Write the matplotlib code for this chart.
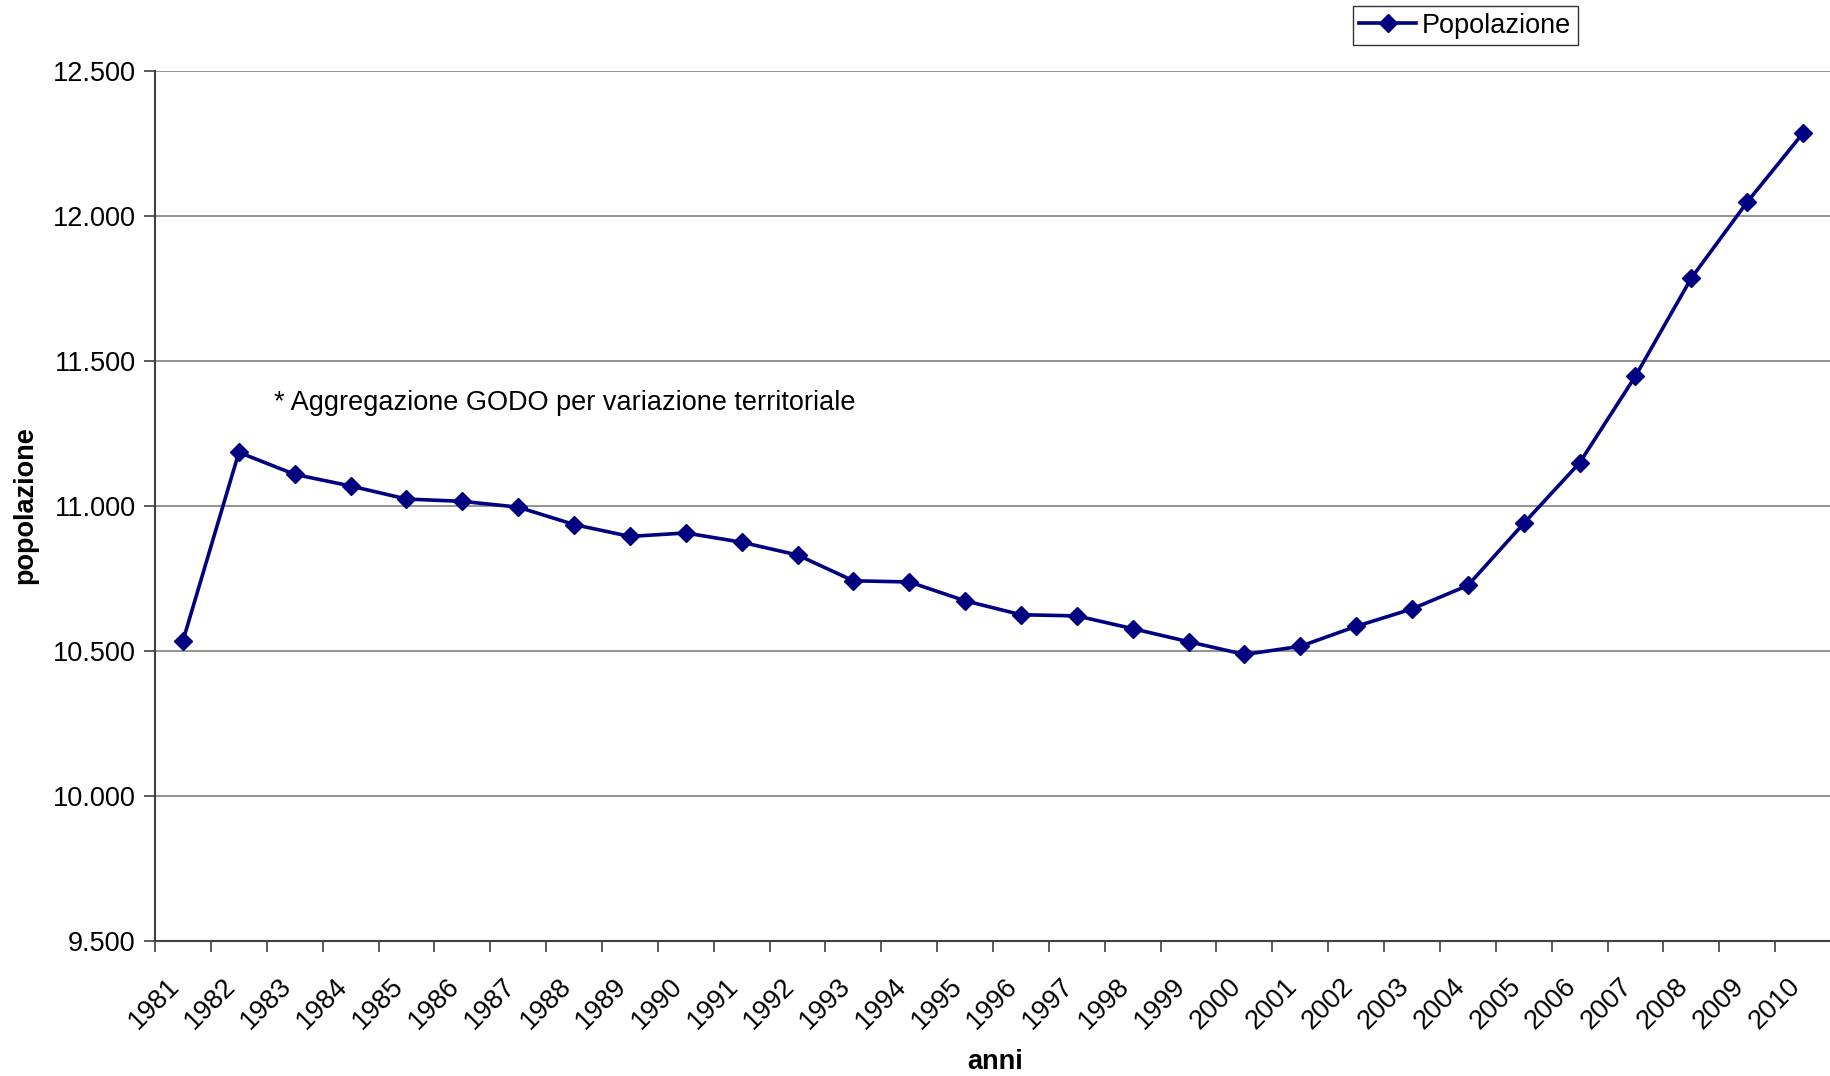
import matplotlib.pyplot as plt
from matplotlib.ticker import FuncFormatter, MultipleLocator
from matplotlib.transforms import ScaledTranslation

plt.rcParams['font.family'] = ['Liberation Sans', 'DejaVu Sans']

# dati
anni = [str(a) for a in range(1981, 2011)]
popolazione = [10536, 11185, 11109, 11069, 11024, 11016, 10996, 10936, 10895, 10907,
               10875, 10831, 10742, 10738, 10673, 10625, 10621, 10577, 10532, 10488,
               10516, 10585, 10645, 10726, 10940, 11149, 11448, 11786, 12048, 12286]
nota = "* Aggregazione GODO per variazione territoriale"

fig = plt.figure(figsize=(18.31, 10.76), dpi=100)
ax = fig.add_axes([0.0847, 0.1255, 0.9153, 0.8085])

x = list(range(len(anni)))
ax.plot(x, popolazione, color='#000080', linewidth=2.6, marker='D', markersize=9.5,
        label='Popolazione', zorder=3)

ax.set_xlim(-0.5, len(anni) - 0.5)
ax.set_ylim(9500, 12500)
ax.yaxis.set_major_locator(MultipleLocator(500))
ax.yaxis.set_major_formatter(FuncFormatter(lambda v, p: '{:,.0f}'.format(v).replace(',', '.')))
ax.grid(axis='y', color='#808080', linewidth=1.2)
ax.set_axisbelow(True)

# tacche tra le categorie, etichette al centro
ax.set_xticks(x)
ax.set_xticklabels(anni, rotation=45, ha='right', va='center', rotation_mode='anchor')
ax.set_xticks([i - 0.5 for i in range(len(anni) + 1)], minor=True)
ax.tick_params(axis='x', which='major', length=0, pad=30, labelsize=19.5)
ax.tick_params(axis='x', which='minor', length=8, width=1.2, color='#404040')
ax.tick_params(axis='y', length=8, width=1.2, color='#404040', labelsize=19.5, pad=6)
for lab in ax.get_xticklabels():
    lab.set_transform(lab.get_transform() + ScaledTranslation(-0.07, 0, fig.dpi_scale_trans))

for s in ['top', 'right']:
    ax.spines[s].set_visible(False)
for s in ['left', 'bottom']:
    ax.spines[s].set_color('#404040')
    ax.spines[s].set_linewidth(1.5)

ax.set_xlabel('anni', fontsize=19.5, fontweight='bold')
ax.xaxis.set_label_coords(0.501, -0.124)
ax.set_ylabel('popolazione', fontsize=19.5, fontweight='bold')
ax.yaxis.set_label_coords(-0.07, 0.501)

ax.text(0.071, 0.618, nota, transform=ax.transAxes, fontsize=19.5, va='center')

leg = ax.legend(loc='upper left', bbox_to_anchor=(0.7145, 1.075), fontsize=19.5,
                frameon=True, fancybox=False, edgecolor='black', handlelength=2.1,
                borderpad=0.25, handletextpad=0.2, borderaxespad=0)
leg.get_frame().set_linewidth(1.0)

fig.savefig('out.png', dpi=100)
